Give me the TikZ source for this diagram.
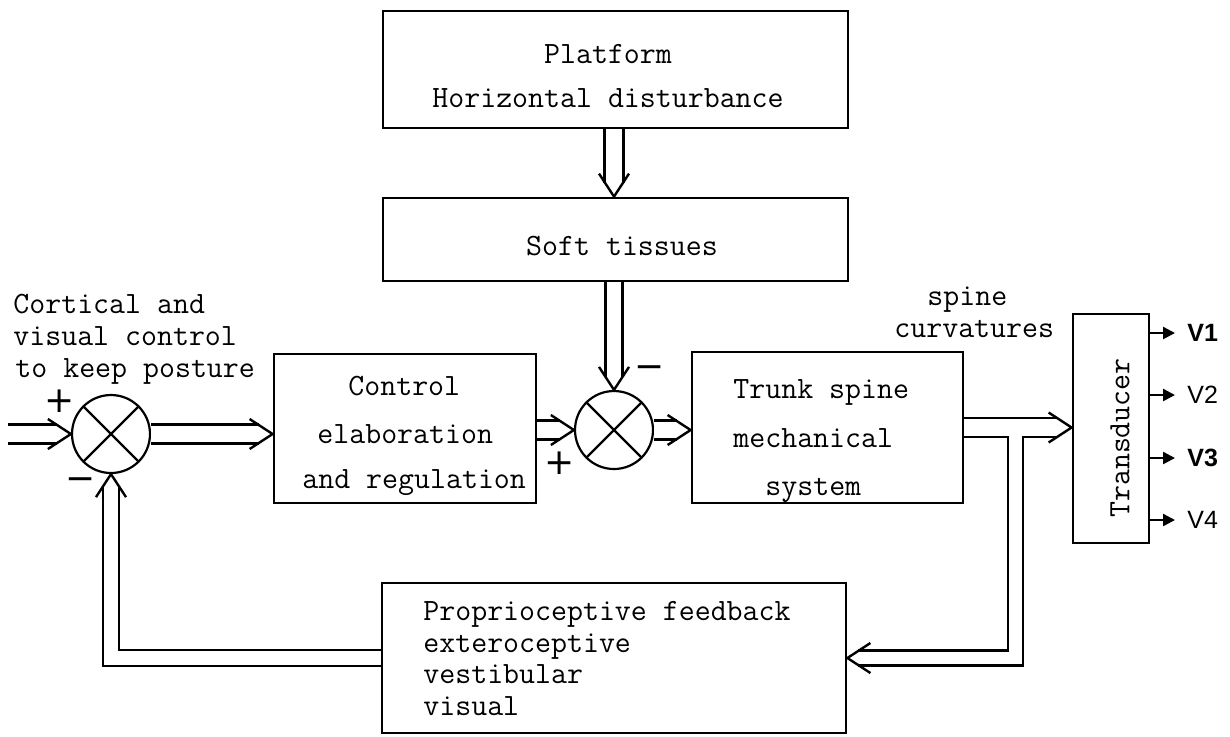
\documentclass[tikz,border=0pt]{standalone}
\usepackage{fontspec}
\newfontfamily\signfont{DejaVu Sans}
\newfontfamily\vfont{Liberation Sans}
\usetikzlibrary{arrows.meta,calc}
\begin{document}
\begin{tikzpicture}[x=0.5pt,y=-0.5pt,
  box/.style={draw, line width=1.4pt, inner sep=0pt},
  txt/.style={font=\ttfamily\fontsize{15.5pt}{18pt}\selectfont, inner sep=0pt},
  sumj/.style={draw, circle, line width=1.1pt, minimum size=39pt, inner sep=0pt},
  dbl/.style={double, double distance=#1, line width=1.2pt},
  dbl/.default=8.3pt,
  vhead/.pic={\draw[line width=1.2pt, line join=miter] (-11.5pt,7.5pt) -- (0pt,0pt) -- (-11.5pt,-7.5pt);},
  sgn/.style={font=\signfont\fontsize{18pt}{18pt}\selectfont, inner sep=0pt},
  vlab/.style={font=\vfont\fontsize{12.5pt}{12.5pt}\selectfont, inner sep=0pt, anchor=west},
  outarr/.style={line width=1.2pt, -{Triangle[length=6pt,width=6pt]}, shorten >=6pt},
]
\useasboundingbox (0,0) rectangle (1230,736);

% boxes
\node[box, minimum width=232.5pt, minimum height=58.5pt] (plat) at (615.5,69.5) {};
\node[txt, anchor=base] (platT1) at (608,63) {Platform};
\node[txt, anchor=base] (platT2) at (608,107) {Horizontal disturbance};

\node[box, minimum width=232.5pt, minimum height=41.5pt] (soft) at (615.5,239.5) {};
\node[txt, anchor=base] (softT) at (622,255) {Soft tissues};

\node[box, minimum width=131pt, minimum height=74.5pt] (ctrl) at (405,428.5) {};
\node[txt, anchor=base west] (ctrlT1) at (348,395) {Control};
\node[txt, anchor=base west] (ctrlT2) at (317,443) {elaboration};
\node[txt, anchor=base west] (ctrlT3) at (302,488) {and regulation};

\node[box, minimum width=135.5pt, minimum height=75.5pt] (trunk) at (827.5,427.5) {};
\node[txt, anchor=base west] (trunkT1) at (733,398) {Trunk spine};
\node[txt, anchor=base west] (trunkT2) at (733,447) {mechanical};
\node[txt, anchor=base west] (trunkT3) at (765,495) {system};

\node[box, minimum width=38pt, minimum height=114.5pt] (trans) at (1111,428.5) {};
\node[txt, rotate=90] (transT) at (1120,438) {Transducer};

\node[box, minimum width=232pt, minimum height=75pt] (fb) at (614,658) {};
\node[txt, anchor=base west] (fbT1) at (423,620) {Proprioceptive feedback};
\node[txt, anchor=base west] (fbT2) at (423,652) {exteroceptive};
\node[txt, anchor=base west] (fbT3) at (423,683) {vestibular};
\node[txt, anchor=base west] (fbT4) at (423,715) {visual};

% free labels
\node[txt, anchor=base west] (spT1) at (927,305) {spine};
\node[txt, anchor=base west] (spT2) at (894,337) {curvatures};
\node[txt, anchor=base west] (inT1) at (13,313) {Cortical and};
\node[txt, anchor=base west] (inT2) at (13,345) {visual control};
\node[txt, anchor=base west] (inT3) at (15,377) {to keep posture};

% summing junctions
\node[sumj] (s1) at (111,434) {};
\node[sumj] (s2) at (614,430) {};
\draw[line width=1.1pt] (s1.45) -- (s1.225) (s1.135) -- (s1.315);
\draw[line width=1.1pt] (s2.45) -- (s2.225) (s2.135) -- (s2.315);

\node[sgn] (s1p) at (60,401) {+};
\node[sgn] (s1m) at (81,484) {−};
\node[sgn] (s2m) at (650,372) {−};
\node[sgn] (s2p) at (560,463) {+};

% connectors (double lines with open heads)
\coordinate (in) at (8,434);
\draw[dbl, shorten >=7pt] (in) -- (s1.west);
\pic at (s1.west) {vhead};
\draw[dbl, shorten >=7pt] (s1.east) -- (s1.east -| ctrl.west);
\pic at (s1.east -| ctrl.west) {vhead};
\draw[dbl, shorten >=7pt] (ctrl.east |- s2.west) -- (s2.west);
\pic at (s2.west) {vhead};
\draw[dbl, shorten >=7pt] (s2.east) -- (s2.east -| trunk.west);
\pic at (s2.east -| trunk.west) {vhead};
\draw[dbl, shorten >=7pt] (plat.south -| s2.north) -- (soft.north -| s2.north);
\pic[rotate=-90] at (soft.north -| s2.north) {vhead};
\draw[dbl=7.3pt, shorten >=6.3pt] (soft.south -| s2.north) -- (s2.north);
\pic[rotate=-90] at (s2.north) {vhead};
\draw[dbl, shorten >=7pt] (trunk.east) -- (trunk.east -| trans.west);
\pic at (trunk.east -| trans.west) {vhead};
\coordinate (br) at (1015.5,435.8);
\draw[dbl=6.3pt, shorten >=5.5pt] (br) |- (fb.east);
\pic[rotate=180] at (fb.east) {vhead};
\draw[dbl=6.8pt, shorten >=5.9pt] (fb.west) -| (s1.south);
\pic[rotate=90] at (s1.south) {vhead};

% transducer outputs
\node[vlab] (v1) at (1187,333) {\bfseries V1};
\node[vlab] (v2) at (1187,395) {V2};
\node[vlab] (v3) at (1187,458) {\bfseries V3};
\node[vlab] (v4) at (1187,520) {V4};
\draw[outarr] (trans.east |- v1.west) -- (v1.west);
\draw[outarr] (trans.east |- v2.west) -- (v2.west);
\draw[outarr] (trans.east |- v3.west) -- (v3.west);
\draw[outarr] (trans.east |- v4.west) -- (v4.west);
\end{tikzpicture}
\end{document}
